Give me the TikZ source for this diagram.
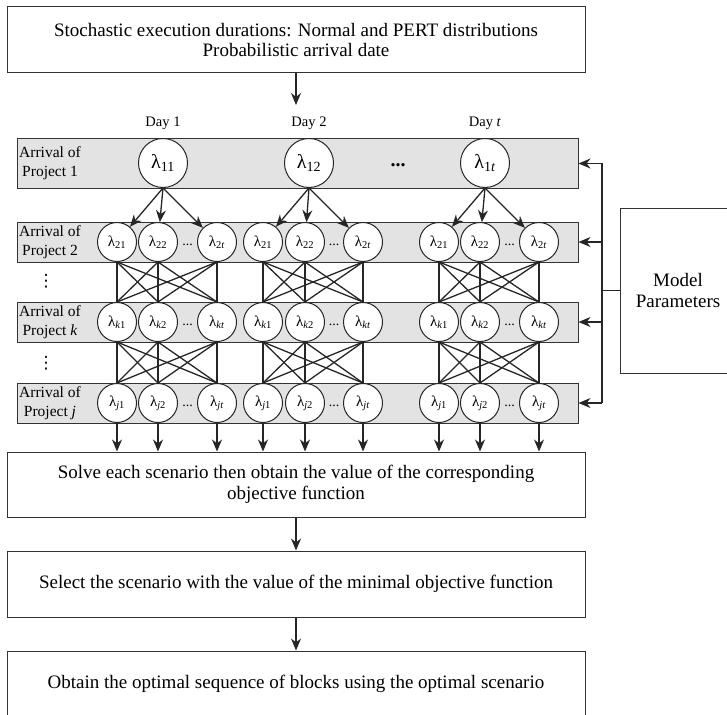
\documentclass[tikz,border=0pt]{standalone}
\usepackage{fontspec}
\setmainfont{Liberation Serif}
\newfontfamily\symfont{DejaVu Sans}
\usepackage{tikz}
\usetikzlibrary{
    arrows.meta,
    positioning
}

\begin{document}
\begin{tikzpicture}[
    x=1pt, y=-1pt,
    font=\fontsize{19}{20.5}\selectfont,
    box/.style={
        rectangle,
        draw=black!80,
        fill=white,
        line width=1pt,
        align=center,
        inner sep=0pt,
        minimum width=578pt,
        minimum height=66pt
    },
    band/.style={
        rectangle,
        draw=black!80,
        fill=black!11,
        line width=1pt,
        inner sep=0pt,
        minimum width=561pt,
        minimum height=40pt
    },
    bigcirc/.style={
        circle,
        draw=black!85,
        fill=white,
        line width=1pt,
        inner sep=0pt,
        minimum size=49pt,
        font=\fontsize{20}{20}\selectfont
    },
    smallcirc/.style={
        circle,
        draw=black!85,
        fill=white,
        line width=1pt,
        inner sep=0pt,
        minimum size=39pt,
        font=\fontsize{15}{15}\selectfont
    },
    rowlabel/.style={
        align=center,
        inner sep=0pt,
        font=\fontsize{15.5}{19}\selectfont
    },
    daylabel/.style={font=\fontsize{14.5}{15}\selectfont},
    dotsmark/.style={inner sep=0pt, font=\fontsize{14}{14}\selectfont},
    vdotsmark/.style={inner sep=0pt, font=\symfont\fontsize{17}{17}\selectfont},
    arrow/.style={-{Stealth[length=12pt,width=10pt]}, line width=1.3pt, black!85},
    link/.style={line width=1.3pt, black!85}
]
\useasboundingbox (0,0) rectangle (727,714);
\clip (0,0) rectangle (727,714);

% ===== INPUT =====
\node[box] (input) at (296,40) {Stochastic execution durations: Normal and PERT distributions\\Probabilistic arrival date};
\coordinate (daytop) at (296,105);
\draw[arrow] (input) -- (daytop);

% Day labels
\node[daylabel] (day1) at (163,123) {Day 1};
\node[daylabel] (day2) at (309,123) {Day 2};
\node[daylabel] (dayt) at (485,123) {Day \textit{t}};

% ===== PROJECT ROWS =====
\node[band, minimum height=49pt] (row1) at (297.5,163.5) {};
\node[band] (row2) at (297.5,242) {};
\node[band] (rowk) at (297.5,322) {};
\node[band] (rowj) at (297.5,403) {};

\node[rowlabel] (lab1) at (50,163.5) {Arrival of\\Project 1};
\node[rowlabel] (lab2) at (50,242) {Arrival of\\Project 2};
\node[rowlabel] (labk) at (50,322) {Arrival of\\Project \textit{k}};
\node[rowlabel] (labj) at (50,403) {Arrival of\\Project \textit{j}};
\node[vdotsmark] (vd1) at (46,281) {⋮};
\node[vdotsmark] (vd2) at (46,363) {⋮};

% Project 1
\node[bigcirc] (lam1-1) at (163,163) {λ\textsubscript{11}};
\node[bigcirc] (lam1-2) at (309,163) {λ\textsubscript{12}};
\node[bigcirc] (lam1-3) at (485,163) {λ\textsubscript{1\textit{t}}};
\node[dotsmark, font=\fontsize{20}{20}\selectfont\bfseries] (d1) at (398,165) {...};

% Projects 2, k, j
\foreach \g/\xa/\xb/\xc/\xd in {1/117/158/217/187.5, 2/263/305/363/334, 3/439/480/539/509.5}{
    \foreach \r/\yy/\s in {2/242/2, k/322/\textit{k}, j/403/\textit{j}}{
        \node[smallcirc] (p\r-\g-a) at (\xa,\yy) {λ\textsubscript{\s1}};
        \node[smallcirc] (p\r-\g-b) at (\xb,\yy) {λ\textsubscript{\s2}};
        \node[smallcirc] (p\r-\g-c) at (\xc,\yy) {λ\textsubscript{\s\textit{t}}};
        \node[dotsmark] (d\r-\g) at (\xd,\yy+3) {...};
    }
}

% scenario tree
\foreach \g in {1,2,3}{
    \foreach \u in {a,b,c}{
        \draw[arrow] (lam1-\g.south) -- (p2-\g-\u);
        \foreach \v in {a,b,c}{
            \draw[link] (p2-\g-\u.south) -- (pk-\g-\v.north);
            \draw[link] (pk-\g-\u.south) -- (pj-\g-\v.north);
        }
    }
}

% ===== MODEL PARAMETERS =====
\node[box, minimum width=116pt, minimum height=165pt] (model) at (678,290.5) {Model\\Parameters};
\coordinate (bus) at (602,290.5);
\draw[link] (model.west) -- (bus);
\draw[link] (row1.east -| bus) -- (rowj.east -| bus);
\foreach \r in {1,2,k,j}
    \draw[arrow] (row\r.east -| bus) -- (row\r.east);

% ===== SOLUTION STEPS =====
\node[box, minimum height=65pt] (solve) at (296,484.5) {Solve each scenario then obtain the value of the corresponding\\objective function};
\node[box] (select) at (296,584) {Select the scenario with the value of the minimal objective function};
\node[box] (obtain) at (296,684) {Obtain the optimal sequence of blocks using the optimal scenario};

\foreach \g in {1,2,3}{
    \foreach \u in {a,b,c}
        \draw[arrow] (pj-\g-\u.south) -- (pj-\g-\u.south |- solve.north);
}
\draw[arrow] (solve) -- (select);
\draw[arrow] (select) -- (obtain);

\end{tikzpicture}
\end{document}
